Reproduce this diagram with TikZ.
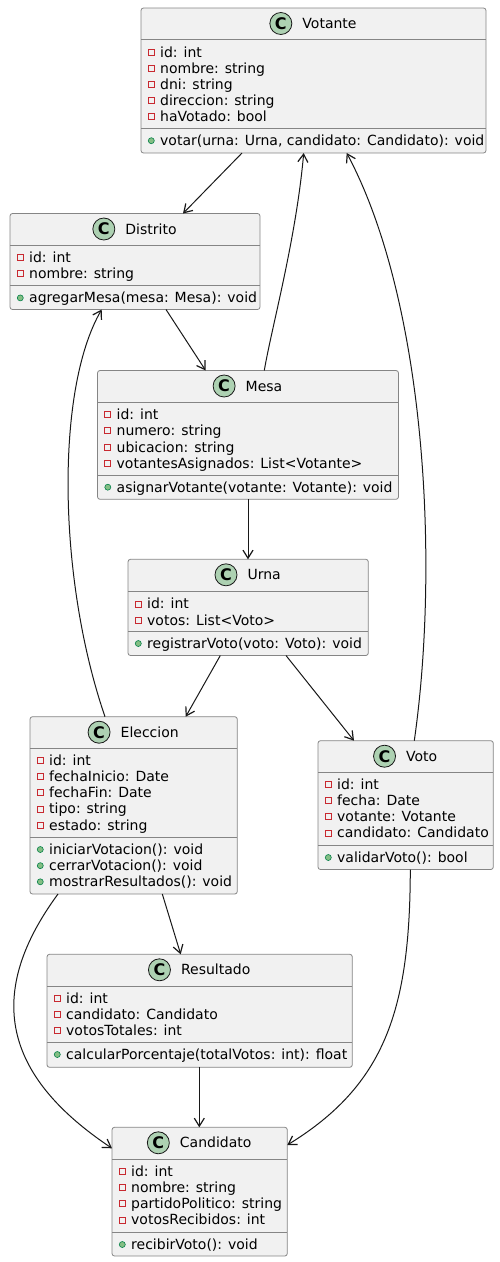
\documentclass[tikz,border=0pt]{standalone}
\usepackage{fontspec}
\setmainfont{DejaVu Sans}
\usetikzlibrary{arrows.meta,positioning}

\definecolor{boxfill}{HTML}{F1F1F1}
\definecolor{boxline}{HTML}{181818}
\definecolor{boxborder}{HTML}{858585}
\definecolor{spotfill}{HTML}{ADD1B2}
\definecolor{privred}{HTML}{C82930}
\definecolor{pubgreen}{HTML}{038048}
\definecolor{pubfill}{HTML}{84BE84}

\tikzset{
	umlbox/.style={draw=boxborder, fill=boxfill, line width=0.8pt, rounded corners=2.5pt, anchor=north west, inner sep=0pt, outer sep=0pt},
	sepline/.style={draw=boxborder, line width=0.8pt},
	spot/.style={circle, draw=boxline, fill=spotfill, line width=0.8pt, minimum size=22pt, inner sep=0pt, font=\fontsize{16}{16}\selectfont\bfseries},
	cname/.style={inner sep=0pt, text height=10.2pt, text depth=0pt, font=\fontsize{14}{16}\selectfont},
	member/.style={anchor=west, inner sep=0pt, text height=13.15pt, text depth=3.15pt, font=\fontsize{14}{16}\selectfont},
	privicon/.style={draw=privred, line width=0.8pt, minimum size=6pt, inner sep=0pt, outer sep=0pt, xshift=-5.7pt},
	pubicon/.style={circle, draw=pubgreen, fill=pubfill, line width=0.6pt, minimum size=6pt, inner sep=0pt, outer sep=0pt, xshift=-5.7pt},
	priv/.style={member, label={[privicon]left:{}}},
	pub/.style={member, label={[pubicon]left:{}}},
	assoc/.style={draw=boxline, line width=1pt, -{Straight Barb[length=8pt, width=10pt, line width=1.2pt]}}
}

\begin{document}
\begin{tikzpicture}[x=1pt, y=1pt]
	\useasboundingbox (0,0) rectangle (499,-1262);

	\node[umlbox, minimum width=345pt, minimum height=145pt] (votante) at (141,-8) {};
	\draw[sepline] (141,-39.8) -- (486,-39.8);
	\draw[sepline] (141,-128.5) -- (486,-128.5);
	\node[cname] (votante-name) at (329.5,-23.5) {Votante};
	\node[spot, left=10pt of votante-name] (votante-spot) {C};
	\node[priv] (votante-a1) at (160,-52) {id: int};
	\node[priv] (votante-a2) at (160,-68.15) {nombre: string};
	\node[priv] (votante-a3) at (160,-84.3) {dni: string};
	\node[priv] (votante-a4) at (160,-100.45) {direccion: string};
	\node[priv] (votante-a5) at (160,-116.6) {haVotado: bool};
	\node[pub] (votante-m1) at (160,-140.7) {votar(urna: Urna, candidato: Candidato): void};

	\node[umlbox, minimum width=250pt, minimum height=96pt] (distrito) at (10,-213.5) {};
	\draw[sepline] (10,-245.5) -- (260,-245.5);
	\draw[sepline] (10,-285.7) -- (260,-285.7);
	\node[cname] (distrito-name) at (151,-229) {Distrito};
	\node[spot, left=10pt of distrito-name] (distrito-spot) {C};
	\node[priv] (distrito-a1) at (29,-257.7) {id: int};
	\node[priv] (distrito-a2) at (29,-273.85) {nombre: string};
	\node[pub] (distrito-m1) at (29,-297.9) {agregarMesa(mesa: Mesa): void};

	\node[umlbox, minimum width=301pt, minimum height=128.8pt] (mesa) at (97.5,-370.5) {};
	\draw[sepline] (97.5,-402.5) -- (398.5,-402.5);
	\draw[sepline] (97.5,-475) -- (398.5,-475);
	\node[cname] (mesa-name) at (264,-386) {Mesa};
	\node[spot, left=10pt of mesa-name] (mesa-spot) {C};
	\node[priv] (mesa-a1) at (116.5,-414.7) {id: int};
	\node[priv] (mesa-a2) at (116.5,-430.85) {numero: string};
	\node[priv] (mesa-a3) at (116.5,-447) {ubicacion: string};
	\node[priv] (mesa-a4) at (116.5,-463.15) {votantesAsignados: List<Votante>};
	\node[pub] (mesa-m1) at (116.5,-487.2) {asignarVotante(votante: Votante): void};

	\node[umlbox, minimum width=240.3pt, minimum height=96.2pt] (urna) at (128,-559.3) {};
	\draw[sepline] (128,-591.7) -- (368.3,-591.7);
	\draw[sepline] (128,-631.3) -- (368.3,-631.3);
	\node[cname] (urna-name) at (264.2,-574.8) {Urna};
	\node[spot, left=10pt of urna-name] (urna-spot) {C};
	\node[priv] (urna-a1) at (147,-603.9) {id: int};
	\node[priv] (urna-a2) at (147,-620.05) {votos: List<Voto>};
	\node[pub] (urna-m1) at (147,-643.5) {registrarVoto(voto: Voto): void};

	\node[umlbox, minimum width=207.3pt, minimum height=177.3pt] (eleccion) at (30,-716.7) {};
	\draw[sepline] (30,-748.3) -- (237.3,-748.3);
	\draw[sepline] (30,-837.3) -- (237.3,-837.3);
	\node[cname] (eleccion-name) at (149.7,-732.2) {Eleccion};
	\node[spot, left=10pt of eleccion-name] (eleccion-spot) {C};
	\node[priv] (eleccion-a1) at (49,-760.5) {id: int};
	\node[priv] (eleccion-a2) at (49,-776.65) {fechaInicio: Date};
	\node[priv] (eleccion-a3) at (49,-792.8) {fechaFin: Date};
	\node[priv] (eleccion-a4) at (49,-808.95) {tipo: string};
	\node[priv] (eleccion-a5) at (49,-825.1) {estado: string};
	\node[pub] (eleccion-m1) at (49,-849.5) {iniciarVotacion(): void};
	\node[pub] (eleccion-m2) at (49,-865.65) {cerrarVotacion(): void};
	\node[pub] (eleccion-m3) at (49,-881.8) {mostrarResultados(): void};

	\node[umlbox, minimum width=175.3pt, minimum height=128.8pt] (voto) at (318,-740.7) {};
	\draw[sepline] (318,-772.3) -- (493.3,-772.3);
	\draw[sepline] (318,-845.3) -- (493.3,-845.3);
	\node[cname] (voto-name) at (421.7,-756.2) {Voto};
	\node[spot, left=10pt of voto-name] (voto-spot) {C};
	\node[priv] (voto-a1) at (337,-784.5) {id: int};
	\node[priv] (voto-a2) at (337,-800.65) {fecha: Date};
	\node[priv] (voto-a3) at (337,-816.8) {votante: Votante};
	\node[priv] (voto-a4) at (337,-832.95) {candidato: Candidato};
	\node[pub] (voto-m1) at (337,-857.5) {validarVoto(): bool};

	\node[umlbox, minimum width=305.3pt, minimum height=113pt] (resultado) at (47,-954.3) {};
	\draw[sepline] (47,-986.3) -- (352.3,-986.3);
	\draw[sepline] (47,-1042.3) -- (352.3,-1042.3);
	\node[cname] (resultado-name) at (215.7,-969.8) {Resultado};
	\node[spot, left=10pt of resultado-name] (resultado-spot) {C};
	\node[priv] (resultado-a1) at (66,-998.5) {id: int};
	\node[priv] (resultado-a2) at (66,-1014.65) {candidato: Candidato};
	\node[priv] (resultado-a3) at (66,-1030.8) {votosTotales: int};
	\node[pub] (resultado-m1) at (66,-1054.5) {calcularPorcentaje(totalVotos: int): float};

	\node[umlbox, minimum width=175.3pt, minimum height=128.7pt] (candidato) at (112,-1127.3) {};
	\draw[sepline] (112,-1159.3) -- (287.3,-1159.3);
	\draw[sepline] (112,-1232.3) -- (287.3,-1232.3);
	\node[cname] (candidato-name) at (215.7,-1142.8) {Candidato};
	\node[spot, left=10pt of candidato-name] (candidato-spot) {C};
	\node[priv] (candidato-a1) at (131,-1171.5) {id: int};
	\node[priv] (candidato-a2) at (131,-1187.65) {nombre: string};
	\node[priv] (candidato-a3) at (131,-1203.8) {partidoPolitico: string};
	\node[priv] (candidato-a4) at (131,-1219.95) {votosRecibidos: int};
	\node[pub] (candidato-m1) at (131,-1244.5) {recibirVoto(): void};

	\draw[assoc] ([xshift=101pt]votante.south west) -- ([xshift=173pt]distrito.north west);
	\draw[assoc] ([xshift=166.8pt]mesa.north west) .. controls (271,-330) and (296,-240) .. ([xshift=162.7pt]votante.south west);
	\draw[assoc] ([xshift=96.3pt]voto.north west) .. controls (440,-560) and (425,-300) .. ([xshift=205.7pt]votante.south west);
	\draw[assoc] ([xshift=156pt]distrito.south west) -- ([xshift=108.2pt]mesa.north west);
	\draw[assoc] ([xshift=75pt]eleccion.north west) .. controls (58,-580) and (55,-390) .. ([xshift=91.7pt]distrito.south west);
	\draw[assoc] (mesa.south) -- (mesa.south |- urna.north);
	\draw[assoc] ([xshift=92.3pt]urna.south west) -- ([xshift=155.7pt]eleccion.north west);
	\draw[assoc] ([xshift=158pt]urna.south west) -- ([xshift=36pt]voto.north west);
	\draw[assoc] ([xshift=132.3pt]eleccion.south west) -- ([xshift=133.7pt]resultado.north west);
	\draw[assoc] ([xshift=28pt]eleccion.south west) .. controls (-20,-1000) and (10,-1080) .. ([yshift=-21pt]candidato.north west);
	\draw[assoc] ([xshift=152.3pt]resultado.south west) -- ([xshift=152.3pt]resultado.south west |- candidato.north);
	\draw[assoc] ([xshift=92.3pt]voto.south west) .. controls (410,-1010) and (385,-1085) .. ([yshift=-17.7pt]candidato.north east);
\end{tikzpicture}
\end{document}
